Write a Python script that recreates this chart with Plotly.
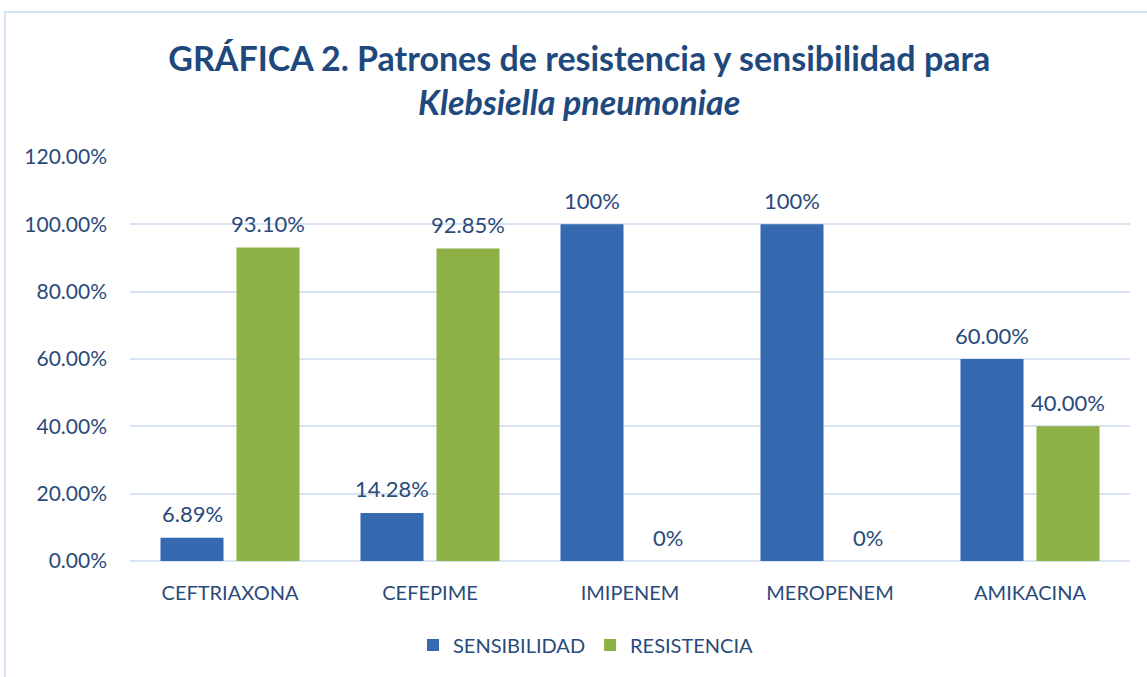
import plotly.graph_objects as go

categories = ["CEFTRIAXONA", "CEFEPIME", "IMIPENEM", "MEROPENEM", "AMIKACINA"]
sensibilidad = [0.0689, 0.1428, 1.00, 1.00, 0.60]
resistencia = [0.9310, 0.9285, 0.0, 0.0, 0.40]
sens_labels = ["6.89%", "14.28%", "100%", "100%", "60.00%"]
res_labels = ["93.10%", "92.85%", "0%", "0%", "40.00%"]
y_ticks = [0, 0.2, 0.4, 0.6, 0.8, 1.0, 1.2]
y_tick_labels = ["0.00%", "20.00%", "40.00%", "60.00%", "80.00%", "100.00%", "120.00%"]

FONT = "Lato"
TXT = "#2A4A7A"
TITLE_C = "#1F497D"

fig = go.Figure()
fig.add_trace(go.Bar(
    name="SENSIBILIDAD", x=categories, y=sensibilidad,
    marker=dict(color="#3569B0", line=dict(width=0)),
))
fig.add_trace(go.Bar(
    name="RESISTENCIA", x=categories, y=resistencia,
    marker=dict(color="#8CB043", line=dict(width=0)),
))

annotations = []
for cat, v, lab in zip(categories, sensibilidad, sens_labels):
    annotations.append(dict(x=cat, y=v, text=lab, showarrow=False, xshift=-38, yshift=24,
                            yanchor="middle", font=dict(size=22, color=TXT, family=FONT)))
for cat, v, lab in zip(categories, resistencia, res_labels):
    annotations.append(dict(x=cat, y=v, text=lab, showarrow=False, xshift=38, yshift=24,
                            yanchor="middle", font=dict(size=22, color=TXT, family=FONT)))

fig.update_layout(
    width=1147, height=677,
    paper_bgcolor="white", plot_bgcolor="white",
    margin=dict(l=130, r=17, t=157, b=116, autoexpand=False),
    font=dict(family=FONT, color=TXT, size=20),
    title=dict(
        text="<b>GRÁFICA 2. Patrones de resistencia y sensibilidad para<br><i>Klebsiella pneumoniae</i></b>",
        x=0.505, xanchor="center", xref="container", y=0.895, yanchor="middle", yref="container",
        font=dict(size=34, color=TITLE_C, family=FONT),
    ),
    barmode="group", bargap=0.24, bargroupgap=0.171,
    showlegend=True,
    legend=dict(orientation="h", x=0.456, xanchor="center", y=-0.208, yanchor="middle",
                font=dict(size=20, color=TXT, family=FONT), itemwidth=30,
                traceorder="normal"),
    xaxis=dict(showgrid=False, showline=False, ticks="", tickfont=dict(size=20, color=TXT),
               ticklabelstandoff=18),
    yaxis=dict(range=[0, 1.2], tickvals=y_ticks, ticktext=y_tick_labels,
               showgrid=True, gridcolor="#D9E3F1", gridwidth=2,
               zeroline=True, zerolinecolor="#D9E3F1", zerolinewidth=2,
               showline=False, ticks="", tickfont=dict(size=21, color=TXT),
               ticklabelstandoff=22),
    annotations=annotations,
    shapes=[dict(type="rect", xref="paper", yref="paper", x0=-0.125, x1=1.05, y0=-0.4, y1=1.359,
                 line=dict(color="#D6E3F3", width=2), fillcolor="rgba(0,0,0,0)", layer="below")],
)

fig.write_html("out.html", config={"displayModeBar": False},
               post_script="document.body.style.margin='0';")
